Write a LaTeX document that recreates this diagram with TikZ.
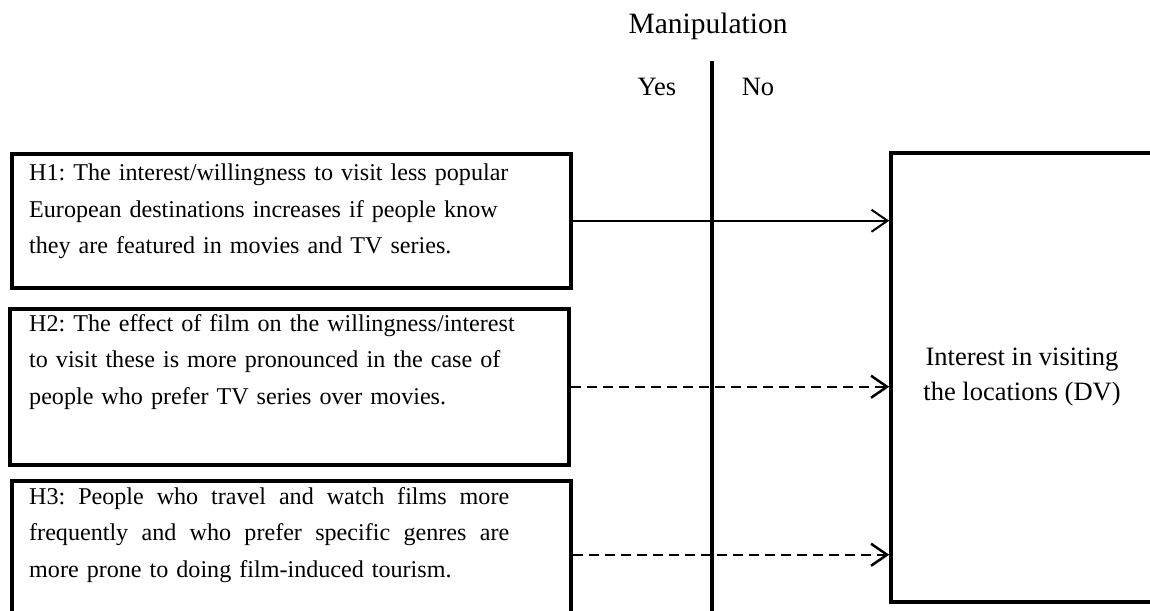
\documentclass[tikz,border=0pt]{standalone}
\usepackage{fontspec}
\setmainfont{Liberation Serif}
\usetikzlibrary{arrows.meta,positioning}
\frenchspacing
\newcommand{\justline}[1]{\leavevmode\hbox to 480pt{\spaceskip=.25em plus 1fil\relax #1}}

\begin{document}
\begin{tikzpicture}[x=1pt, y=-1pt, node distance={10pt},
    hyp/.style = {draw, line width=3.5pt, rectangle, minimum width=559pt, anchor=north west, inner sep=0pt},
    hyptext/.style = {inner sep=0pt, text width=500pt, align=left, font=\fontsize{24.1}{36.5}\selectfont},
    word/.style = {inner sep=0pt, font=\fontsize{26.5}{32}\selectfont},
    dvbox/.style = {draw, line width=3.5pt, rectangle, minimum width=262pt, minimum height=449pt, align=center, font=\fontsize{26.5}{35}\selectfont},
    effect/.style = {-{Straight Barb[length=16pt,width=22pt]}, line width=2pt},
    weak/.style = {effect, line width=2.5pt, dash pattern=on 10pt off 6pt}]
    \useasboundingbox (0,0) rectangle (1150,610);
    \clip (0,0) rectangle (1150,610);

    % Header
    \node[word, font=\fontsize{29.5}{34}\selectfont] (manip) at (708,26) {Manipulation};
    \node[word] (yes) at (657,87) {Yes};
    \node[word] (no) at (758,87) {No};
    \coordinate (divtop) at (712,61);
    \coordinate (divbot) at (712,620);
    \draw[line width=3.5pt] (divtop) -- (divbot);

    % Hypotheses
    \node[hyp, minimum height=134pt] (h1) at (10,152) {};
    \node[hyp, minimum height=156pt] (h2) at (8,307) {};
    \node[hyp, minimum height=148pt] (h3) at (10,479) {};

    \node[hyptext] (t1) [below right=12pt and 19pt of h1.north west]
        {H1: The interest/willingness to visit less popular\\
         European destinations increases if people know\\
         they are featured in movies and TV series.};
    \node[hyptext] (t2) [below right=7pt and 21pt of h2.north west]
        {H2: The effect of film on the willingness/interest\\
         to visit these is more pronounced in the case of\\
         people who prefer TV series over movies.};
    \node[hyptext] (t3) [below right=8pt and 19pt of h3.north west]
        {\justline{H3: People who travel and watch films more}\\
         \justline{frequently and who prefer specific genres are}\\
         more prone to doing film-induced tourism.};

    % Outcome
    \node[dvbox] (dv) at (1022,377.5) {Interest in visiting\\the locations (DV)};

    % Effects
    \draw[effect] (h1.east) -- (h1.east -| dv.west);
    \draw[weak] (h2.east) -- (h2.east -| dv.west);
    \draw[weak] (h3.east) -- (h3.east -| dv.west);

\end{tikzpicture}
\end{document}
